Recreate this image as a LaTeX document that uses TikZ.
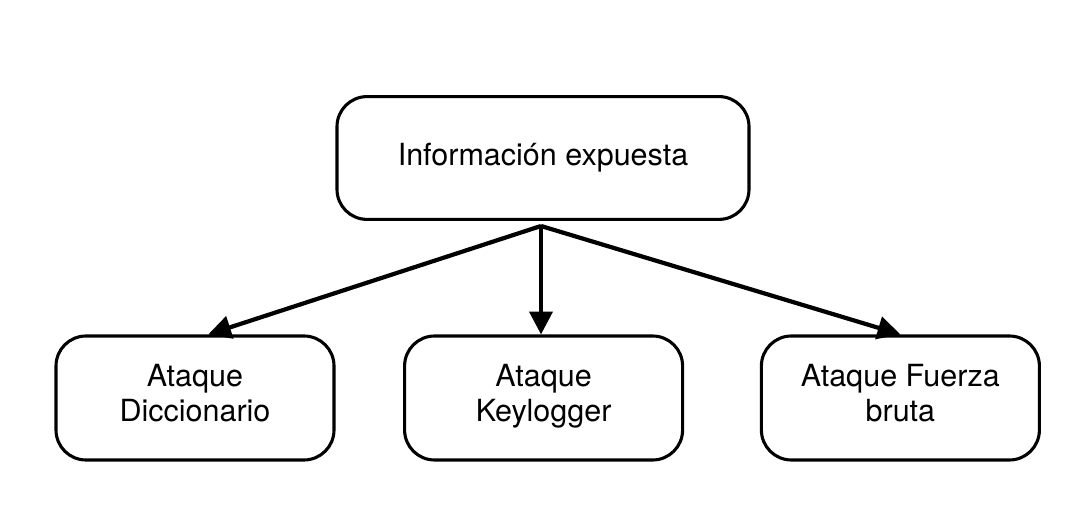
\documentclass[tikz,border=0pt]{standalone}
\usepackage{fontspec}
\setmainfont{TeX Gyre Heros}
\usetikzlibrary{positioning,arrows.meta}

\tikzset{
    box/.style={draw, line width=2.2pt, rounded corners=0.75cm, align=center,
        font=\fontsize{21.7}{24.8}\selectfont},
    arr/.style={line width=3pt, -{Triangle[length=0.57cm, width=0.57cm]}}
}

\begin{document}
\begin{tikzpicture}
            \useasboundingbox (0, 0) rectangle (27.3, 12.7);
            \node[box, minimum width=10.3cm, minimum height=3.07cm] (info) at (13.575, 8.75) {Información expuesta};
            \node[box, minimum width=6.95cm, minimum height=3.1cm] (dicc) at (4.875, 2.75) {Ataque\\Diccionario\strut};
            \node[box, minimum width=6.95cm, minimum height=3.1cm] (key) at (13.59, 2.75) {Ataque\\Keylogger\strut};
            \node[box, minimum width=6.95cm, minimum height=3.1cm] (fuerza) at (22.51, 2.75) {Ataque Fuerza\\bruta\strut};
        
            \coordinate (fork) at (13.525, 7.05);
        
            \draw[arr] (fork) -- ([xshift=0.33cm]dicc.north);
            \draw[arr] (fork) -- (key.north -| fork);
            \draw[arr] (fork) -- (fuerza.north);
        \end{tikzpicture}
\end{document}
